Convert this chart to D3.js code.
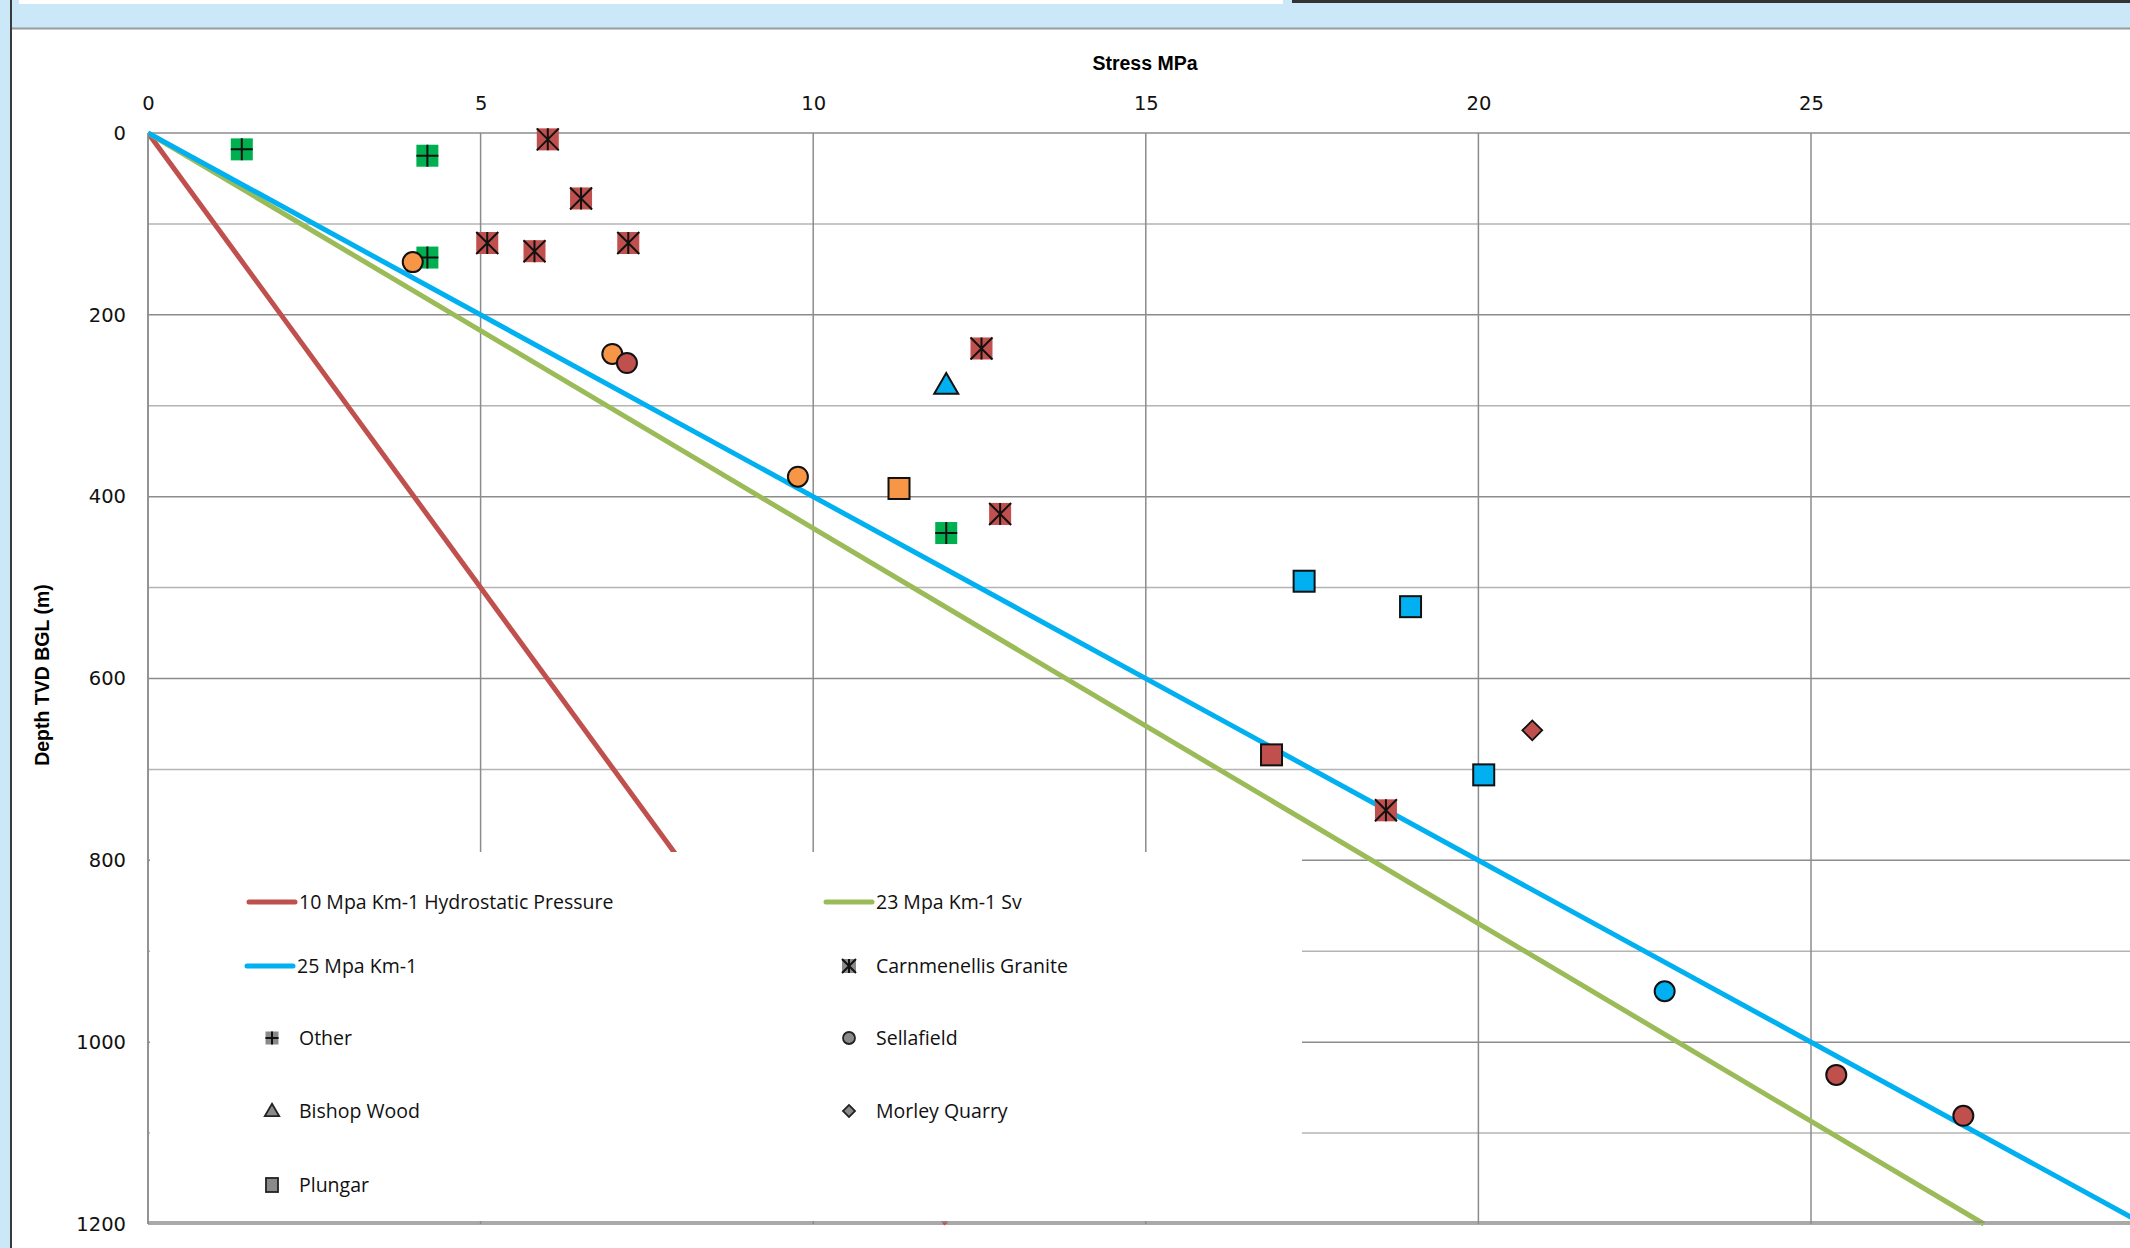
<!DOCTYPE html>
<html>
<head>
<meta charset="utf-8">
<script src="https://cdn.jsdelivr.net/npm/d3@7"></script>
<style>
    body { margin: 0; background: #cbe8f8; }
    svg { display: block; }
</style>
</head>
<body>
<script>
// Stress gradients (MPa per km) drawn as reference lines
const gradients = [10, 23, 25];
const gradientLabels = ['10 Mpa Km-1 Hydrostatic Pressure', '23 Mpa Km-1 Sv', '25 Mpa Km-1'];

// Measurements: [stress MPa, depth m, colour set]
const carnmenellis = [[6.01, 7], [6.51, 72], [5.10, 121], [5.81, 130], [7.22, 121], [12.53, 237], [12.81, 419], [18.61, 745]];
const other = [[1.41, 18], [4.20, 25], [4.20, 137], [12.0, 440]];
const sellafield = [[3.98, 142, 'o'], [6.98, 243, 'o'], [7.20, 253, 'r'], [9.77, 378, 'o'], [22.80, 944, 'b'], [25.38, 1036, 'r'], [27.29, 1081, 'r']];
const bishopWood = [[12.0, 277, 'b']];
const morleyQuarry = [[20.81, 657, 'r']];
const plungar = [[11.29, 391, 'o'], [17.38, 493, 'b'], [18.98, 521, 'b'], [16.89, 684, 'r'], [20.08, 706, 'b']];

const xTicks = [0, 5, 10, 15, 20, 25];
const yTicks = [0, 200, 400, 600, 800, 1000, 1200];
const yMinorTicks = [100, 300, 500, 700, 900, 1100];

const W = 2130, H = 1248;
const plot = { left: 148, top: 133, bottom: 1224 };

const lineColor = d3.scaleOrdinal().domain(gradients).range(['#c0504d', '#9bbb59', '#00b0f0']);
const setColor = d3.scaleOrdinal().domain(['o', 'r', 'b']).range(['#f79646', '#c0504d', '#00b0f0']);

const svg = d3.select('body').append('svg')
    .attr('width', W)
    .attr('height', H);

// window chrome
svg.append('rect').attr('x', 19).attr('y', 0).attr('width', 1264).attr('height', 4).attr('fill', '#fff');
svg.append('rect').attr('x', 1292).attr('y', 0).attr('width', W - 1292).attr('height', 3).attr('fill', '#333');
svg.append('rect').attr('x', 10).attr('y', 0).attr('width', 2).attr('height', H).attr('fill', '#3a3a3a');
svg.append('rect').attr('x', 12).attr('y', 29).attr('width', W - 12).attr('height', H - 29).attr('fill', '#fff');
svg.append('line').attr('x1', 12).attr('x2', W).attr('y1', 28.5).attr('y2', 28.5)
    .attr('stroke', '#9a9a9a').attr('stroke-width', 2);

// Scales
const x = d3.scaleLinear().domain([0, 30]).range([plot.left, plot.left + 30 * 66.52]);
const y = d3.scaleLinear().domain([0, 1200]).range([plot.top, plot.bottom]);

// Grid
const grid = svg.append('g');
grid.selectAll('.minor')
    .data(yMinorTicks)
    .join('line')
    .attr('x1', plot.left).attr('x2', W)
    .attr('y1', d => y(d)).attr('y2', d => y(d))
    .attr('stroke', '#b4b4b4').attr('stroke-width', 1.5);
grid.selectAll('.major')
    .data(yTicks)
    .join('line')
    .attr('x1', plot.left).attr('x2', W)
    .attr('y1', d => y(d)).attr('y2', d => y(d))
    .attr('stroke', '#8c8c8c').attr('stroke-width', 1.5);
grid.selectAll('.vert')
    .data(xTicks)
    .join('line')
    .attr('x1', d => x(d)).attr('x2', d => x(d))
    .attr('y1', plot.top).attr('y2', plot.bottom)
    .attr('stroke', '#8c8c8c').attr('stroke-width', 1.5);

// Axes labels
const xAxis = svg.append('g')
    .attr('transform', `translate(0,${plot.top})`)
    .call(d3.axisTop(x).tickValues(xTicks).tickFormat(d3.format('d')).tickSize(0).tickPadding(23));
xAxis.select('.domain').remove();
xAxis.selectAll('text')
    .style('font-family', 'DejaVu Sans')
    .style('font-size', '19.5px')
    .style('fill', '#111');

const yAxis = svg.append('g')
    .attr('transform', `translate(${plot.left},0)`)
    .call(d3.axisLeft(y).tickValues(yTicks).tickFormat(d3.format('d')).tickSize(0).tickPadding(22));
yAxis.select('.domain').remove();
yAxis.selectAll('text')
    .style('font-family', 'DejaVu Sans')
    .style('font-size', '19.5px')
    .style('fill', '#111');

svg.append('text')
    .attr('x', 1145)
    .attr('y', 70)
    .attr('text-anchor', 'middle')
    .style('font-family', 'Liberation Sans, Arial, sans-serif')
    .style('font-weight', 'bold')
    .style('font-size', '19.5px')
    .text('Stress MPa');

svg.append('text')
    .attr('transform', 'translate(42,675) rotate(-90)')
    .attr('text-anchor', 'middle')
    .attr('dy', '0.35em')
    .style('font-family', 'Liberation Sans, Arial, sans-serif')
    .style('font-weight', 'bold')
    .style('font-size', '19.5px')
    .text('Depth TVD BGL (m)');

// Gradient lines
svg.append('clipPath').attr('id', 'plot-clip')
    .append('rect').attr('x', plot.left).attr('y', plot.top - 10)
    .attr('width', W - plot.left).attr('height', plot.bottom - plot.top + 20);

const lineGen = d3.line().x(d => x(d[0])).y(d => y(d[1]));
const maxDepth = y.domain()[1];
svg.append('g')
    .attr('clip-path', 'url(#plot-clip)')
    .selectAll('path')
    .data(gradients)
    .join('path')
    .attr('d', g => lineGen([[0, 0], [g * maxDepth / 1000, maxDepth]]))
    .attr('fill', 'none')
    .attr('stroke', g => lineColor(g))
    .attr('stroke-width', 5);

// Marker helpers
function carnMarker(sel, s, fill) {
    sel.append('rect').attr('x', -s / 2).attr('y', -s / 2).attr('width', s).attr('height', s).attr('fill', fill);
    sel.append('path')
        .attr('d', `M${-s / 2},${-s / 2}L${s / 2},${s / 2}M${s / 2},${-s / 2}L${-s / 2},${s / 2}M0,${-s / 2}V${s / 2}`)
        .attr('stroke', '#111').attr('stroke-width', 2).attr('fill', 'none');
}
function otherMarker(sel, s, fill) {
    sel.append('rect').attr('x', -s / 2).attr('y', -s / 2).attr('width', s).attr('height', s).attr('fill', fill);
    sel.append('path')
        .attr('d', `M0,${-s / 2}V${s / 2}M${-s / 2},0H${s / 2}`)
        .attr('stroke', '#111').attr('stroke-width', 2).attr('fill', 'none');
}
const symbolPath = (type, size) => d3.symbol().type(type).size(size)();

const marks = svg.append('g');

marks.selectAll('.other')
    .data(other)
    .join('g')
    .attr('transform', d => `translate(${x(d[0])},${y(d[1])})`)
    .each(function() { otherMarker(d3.select(this), 22, '#00b050'); });

marks.selectAll('.carn')
    .data(carnmenellis)
    .join('g')
    .attr('transform', d => `translate(${x(d[0])},${y(d[1])})`)
    .each(function() { carnMarker(d3.select(this), 22, '#c0504d'); });

marks.selectAll('.sella')
    .data(sellafield)
    .join('circle')
    .attr('cx', d => x(d[0]))
    .attr('cy', d => y(d[1]))
    .attr('r', 10)
    .attr('fill', d => setColor(d[2]))
    .attr('stroke', '#111')
    .attr('stroke-width', 2);

marks.selectAll('.bishop')
    .data(bishopWood)
    .join('path')
    .attr('transform', d => `translate(${x(d[0])},${y(d[1]) + 2})`)
    .attr('d', symbolPath(d3.symbolTriangle, 250))
    .attr('fill', d => setColor(d[2]))
    .attr('stroke', '#111')
    .attr('stroke-width', 2);

marks.selectAll('.morley')
    .data(morleyQuarry)
    .join('path')
    .attr('transform', d => `translate(${x(d[0])},${y(d[1])}) rotate(45)`)
    .attr('d', symbolPath(d3.symbolSquare, 196))
    .attr('fill', d => setColor(d[2]))
    .attr('stroke', '#111')
    .attr('stroke-width', 1.8);

marks.selectAll('.plungar')
    .data(plungar)
    .join('rect')
    .attr('x', d => x(d[0]) - 10.5)
    .attr('y', d => y(d[1]) - 10.5)
    .attr('width', 21)
    .attr('height', 21)
    .attr('fill', d => setColor(d[2]))
    .attr('stroke', '#111')
    .attr('stroke-width', 2);

// Legend (opaque box sitting over the plot)
const legend = svg.append('g');
legend.append('rect')
    .attr('x', 150).attr('y', 852)
    .attr('width', 1152).attr('height', 369)
    .attr('fill', '#fff');

const rows = [902, 966, 1038, 1111, 1185];
const lineItems = [
    { g: gradients[0], x: 249, row: 0 },
    { g: gradients[1], x: 826, row: 0 },
    { g: gradients[2], x: 247, row: 1 }
];
lineItems.forEach((it, i) => {
    legend.append('line')
        .attr('x1', it.x).attr('x2', it.x + 46)
        .attr('y1', rows[it.row]).attr('y2', rows[it.row])
        .attr('stroke', lineColor(it.g)).attr('stroke-width', 5)
        .attr('stroke-linecap', 'round');
    legend.append('text')
        .attr('x', it.x + 50).attr('y', rows[it.row]).attr('dy', '0.35em')
        .style('font-family', 'Open Sans, sans-serif').style('font-size', '19.5px').style('fill', '#111')
        .text(gradientLabels[i]);
});

const legendGrey = '#8a8a8a';
const markerItems = [
    { name: 'Carnmenellis Granite', x: 849, row: 1, draw: s => carnMarker(s, 14, legendGrey) },
    { name: 'Other', x: 272, row: 2, draw: s => otherMarker(s, 13, legendGrey) },
    { name: 'Sellafield', x: 849, row: 2, draw: s => s.append('circle').attr('r', 6).attr('fill', legendGrey).attr('stroke', '#222').attr('stroke-width', 1.8) },
    { name: 'Bishop Wood', x: 272, row: 3, draw: s => s.append('path').attr('d', symbolPath(d3.symbolTriangle, 90)).attr('transform', 'translate(0,1)').attr('fill', legendGrey).attr('stroke', '#222').attr('stroke-width', 1.8) },
    { name: 'Morley Quarry', x: 849, row: 3, draw: s => s.append('path').attr('d', symbolPath(d3.symbolSquare, 72)).attr('transform', 'rotate(45)').attr('fill', legendGrey).attr('stroke', '#222').attr('stroke-width', 1.8) },
    { name: 'Plungar', x: 272, row: 4, draw: s => s.append('rect').attr('x', -6).attr('y', -7).attr('width', 12).attr('height', 14).attr('fill', legendGrey).attr('stroke', '#222').attr('stroke-width', 1.8) }
];
markerItems.forEach(it => {
    const g = legend.append('g').attr('transform', `translate(${it.x},${rows[it.row]})`);
    it.draw(g);
    legend.append('text')
        .attr('x', it.x + 27).attr('y', rows[it.row]).attr('dy', '0.35em')
        .style('font-family', 'Open Sans, sans-serif').style('font-size', '19.5px').style('fill', '#111')
        .text(it.name);
});

// Axes lines over the legend box
svg.append('line').attr('x1', plot.left).attr('x2', plot.left).attr('y1', plot.top).attr('y2', plot.bottom)
    .attr('stroke', '#8c8c8c').attr('stroke-width', 1.5);
svg.append('line').attr('x1', plot.left).attr('x2', W).attr('y1', plot.bottom - 2).attr('y2', plot.bottom - 2)
    .attr('stroke', '#8c8c8c').attr('stroke-width', 1.5);
</script>
</body>
</html>
